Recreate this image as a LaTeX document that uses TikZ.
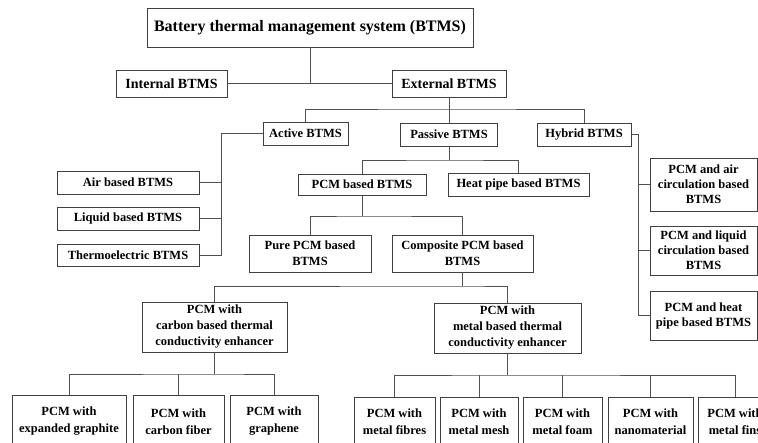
\documentclass[tikz,border=0pt]{standalone}
\usepackage{fontspec}
\setmainfont{Liberation Serif}
\definecolor{linec}{HTML}{505050}
\definecolor{boxc}{HTML}{404040}
\begin{document}
\begin{tikzpicture}[x=1pt,y=-1pt,
  box/.style={draw=boxc, line width=0.8pt, fill=white, inner sep=0pt, align=center,
    font=\bfseries\fontsize{12.5}{16}\selectfont},
  hybbox/.style={box, font=\bfseries\fontsize{12.5}{15}\selectfont},
  botbox/.style={box, font=\bfseries\fontsize{12.5}{17}\selectfont},
  midbox/.style={box, font=\bfseries\fontsize{14}{16}\selectfont},
  topbox/.style={box, font=\bfseries\fontsize{16}{18}\selectfont},
  conn/.style={draw=linec, line width=0.8pt}]
\useasboundingbox (0,0) rectangle (758,442);
\clip (0,0) rectangle (758,442);
\fill[white] (0,0) rectangle (758,442);

% nodes
\node[topbox, minimum width=326pt, minimum height=39pt] (title) at (310,27.5) {Battery thermal management system (BTMS)};
\node[midbox, minimum width=111pt, minimum height=27pt] (internal) at (171.5,83.5) {Internal BTMS};
\node[midbox, minimum width=114pt, minimum height=27pt] (external) at (449,83.5) {External BTMS};

\node[box, minimum width=85pt, minimum height=23pt] (active) at (305.5,133.5) {Active BTMS};
\node[box, minimum width=97pt, minimum height=23pt] (passive) at (449,134.5) {Passive BTMS};
\node[box, minimum width=94pt, minimum height=23pt] (hybrid) at (584,134.5) {Hybrid BTMS};

\node[box, minimum width=142pt, minimum height=23pt] (air) at (128,182.5) {Air based BTMS};
\node[box, minimum width=142pt, minimum height=23pt] (liquid) at (128,218.5) {Liquid based BTMS};
\node[box, minimum width=142pt, minimum height=22pt] (thermo) at (128,255) {Thermoelectric BTMS};

\node[box, minimum width=128pt, minimum height=21pt] (pcmb) at (362,184.5) {PCM based BTMS};
\node[box, minimum width=141pt, minimum height=23pt] (heatp) at (518.5,184.5) {Heat pipe based BTMS};

\node[box, minimum width=122pt, minimum height=37pt] (pure) at (310,253.5) {Pure PCM based\\BTMS};
\node[box, minimum width=141pt, minimum height=37pt] (comp) at (462.5,253.5) {Composite PCM based\\BTMS};

\node[hybbox, minimum width=107pt, minimum height=53pt] (hair) at (703.5,184.5) {PCM and air\\circulation based\\BTMS};
\node[hybbox, minimum width=107pt, minimum height=49pt] (hliq) at (703.5,250.5) {PCM and liquid\\circulation based\\BTMS};
\node[hybbox, minimum width=107pt, minimum height=49pt] (hheat) at (703.5,315.5) {PCM and heat\\pipe based BTMS};

\node[box, minimum width=145pt, minimum height=50pt] (carbon) at (214.5,327) {PCM with\\carbon based thermal\\conductivity enhancer};
\node[box, minimum width=147pt, minimum height=50pt] (metal) at (507.5,328) {PCM with\\metal based thermal\\conductivity enhancer};

\node[botbox, minimum width=114pt, minimum height=53pt] (graphite) at (69,421.5) {PCM with\\expanded graphite};
\node[botbox, minimum width=91pt, minimum height=53pt] (fiber) at (178.5,421.5) {PCM with\\carbon fiber};
\node[botbox, minimum width=88pt, minimum height=53pt] (graphene) at (274,421.5) {PCM with\\graphene};

\node[botbox, minimum width=81pt, minimum height=50pt] (fibres) at (394.5,422) {PCM with\\metal fibres};
\node[botbox, minimum width=78pt, minimum height=50pt] (mesh) at (479,422) {PCM with\\metal mesh};
\node[botbox, minimum width=79pt, minimum height=50pt] (foam) at (562.5,422) {PCM with\\metal foam};
\node[botbox, minimum width=85pt, minimum height=50pt] (nano) at (650.5,422) {PCM with\\nanomaterial};
\node[botbox, minimum width=74pt, minimum height=50pt] (fins) at (735,422) {PCM with\\metal fins};

% branch points
\coordinate (b0) at (310,83.5);
\coordinate (b1) at (449,109);
\coordinate (av) at (221,133.5);
\coordinate (hv) at (638,134.5);
\coordinate (b2) at (449,160);
\coordinate (b3) at (362,216);
\coordinate (b4) at (462.5,286);
\coordinate (b5) at (214.5,374);
\coordinate (b6) at (507.5,375);

% connectors
\draw[conn] (title.south) -- (b0);
\draw[conn] (internal.east) -- (external.west);
\draw[conn] (external.south) -- (b1);
\draw[conn] (active.north) |- (b1) -| (hybrid.north);
\draw[conn] (b1) -- (passive.north);

\draw[conn] (active.west) -- (av) |- (thermo.east);
\draw[conn] (air.east) -- (air.east -| av);
\draw[conn] (liquid.east) -- (liquid.east -| av);

\draw[conn] (hybrid.east) -- (hv) |- (hheat.west);
\draw[conn] (hair.west) -- (hair.west -| hv);
\draw[conn] (hliq.west) -- (hliq.west -| hv);

\draw[conn] (passive.south) -- (b2);
\draw[conn] (pcmb.north) |- (b2) -| (heatp.north);

\draw[conn] (pcmb.south) -- (b3);
\draw[conn] (pure.north) |- (b3) -| (comp.north);

\draw[conn] (comp.south) -- (b4);
\draw[conn] (carbon.north) |- (b4) -| (metal.north);

\draw[conn] (carbon.south) -- (b5);
\draw[conn] (graphite.north) |- (b5) -| (graphene.north);
\draw[conn] (fiber.north) -- (fiber.north |- b5);

\draw[conn] (metal.south) -- (b6);
\draw[conn] (fibres.north) |- (b6) -| (fins.north);
\draw[conn] (mesh.north) -- (mesh.north |- b6);
\draw[conn] (foam.north) -- (foam.north |- b6);
\draw[conn] (nano.north) -- (nano.north |- b6);
\end{tikzpicture}
\end{document}
